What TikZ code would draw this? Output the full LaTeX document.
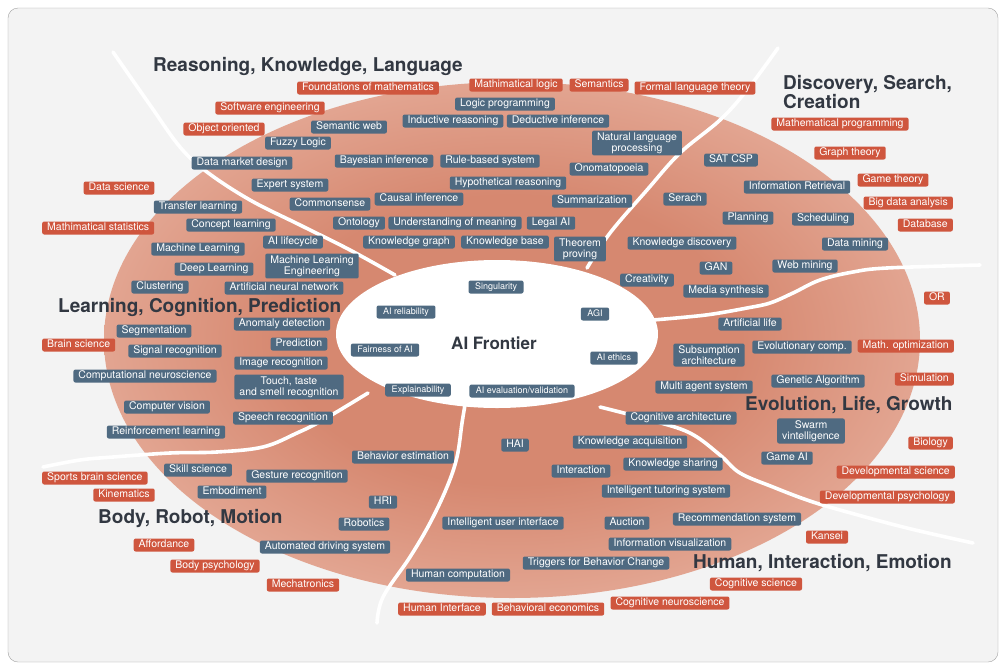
\documentclass[tikz,border=0pt]{standalone}
\usepackage{fontspec}
\setmainfont{TeX Gyre Heros}
\definecolor{bgc}{RGB}{243,243,243}
\definecolor{framec}{RGB}{160,160,160}
\definecolor{bluebox}{RGB}{79,106,129}
\definecolor{redbox}{RGB}{207,86,62}
\definecolor{salC}{RGB}{214,136,112}
\definecolor{salE}{RGB}{243,204,190}
\definecolor{hdc}{RGB}{50,56,66}
\pgfdeclareradialshading{salmonsh}{\pgfpoint{0bp}{0bp}}{color(0bp)=(salC); color(14bp)=(salC); color(40bp)=(salE); color(80bp)=(salE)}
\tikzset{
  boxbase/.style={rounded corners=2pt, text=white, font=\fontsize{10.5}{11}\selectfont, inner xsep=5pt},
  bb/.style={boxbase, fill=bluebox, inner ysep=1.4pt, text height=8pt, text depth=2.2pt},
  rb/.style={boxbase, fill=redbox, inner ysep=1.4pt, text height=8pt, text depth=2.2pt},
  bbtwo/.style={boxbase, fill=bluebox, inner ysep=2pt, align=center},
  ib/.style={rounded corners=2pt, text=white, fill=bluebox, font=\fontsize{9}{10}\selectfont, inner xsep=6.5pt, inner ysep=2pt, text height=7pt, text depth=2pt},
  hd/.style={text=hdc, font=\bfseries\fontsize{19}{16}\selectfont, inner sep=0pt, align=left},
  sepline/.style={white, line width=3.6pt, line cap=round}
}
\begin{document}
\begin{tikzpicture}[x=1pt,y=-1pt]
\useasboundingbox (0,0) rectangle (1006,670);
\fill[white] (0,0) rectangle (1006,670);
\draw[framec, fill=bgc, rounded corners=10pt] (8,8) rectangle (998,662);
\shade[shading=salmonsh] (512,340) ellipse [x radius=408pt, y radius=258pt];
% separators
\draw[sepline] plot[smooth, tension=0.6] coordinates {(113,52) (150,105) (180,147) (207,172) (250,200) (300,225) (350,250) (395,275)};
\draw[sepline] plot[smooth, tension=0.6] coordinates {(587,268) (610,233) (647,190) (680,153) (720,120) (747,90) (778,48)};
\draw[sepline] plot[smooth, tension=0.6] coordinates {(653,320) (687,317) (713,314) (747,308) (770,303) (793,293) (820,280) (853,272) (887,268) (980,265)};
\draw[sepline] plot[smooth, tension=0.6] coordinates {(600,407) (650,420) (690,433) (720,455) (740,473) (773,487) (807,500) (840,510) (907,528) (973,543)};
\draw[sepline] plot[smooth, tension=0.6] coordinates {(465,405) (462,423) (457,457) (447,487) (430,523) (410,557) (383,597) (377,623)};
\draw[sepline] plot[smooth, tension=0.6] coordinates {(368,393) (323,420) (297,433) (263,447) (217,452) (170,453) (113,457) (80,460) (43,467)};
\fill[white] (497,334) ellipse [x radius=161pt, y radius=74pt];

% headings
\node[hd, anchor=west] (hR) at (153,66) {Reasoning, Knowledge, Language};
\node[hd, anchor=north west] (hD) at (783,75) {Discovery, Search,\\Creation};
\node[hd, anchor=west] (hL) at (58,307) {Learning, Cognition, Prediction};
\node[hd, anchor=west] (hE) at (745,405) {Evolution, Life, Growth};
\node[hd, anchor=west] (hB) at (98,518) {Body, Robot, Motion};
\node[hd, anchor=west] (hH) at (693,563) {Human, Interaction, Emotion};
\node[text=hdc, font=\bfseries\fontsize{17}{20}\selectfont] (af) at (494,343) {AI Frontier};

% red boxes
\node[rb] (r1) at (368,88) {Foundations of mathematics};
\node[rb] (r2) at (516,85) {Mathimatical logic};
\node[rb] (r3) at (599,85) {Semantics};
\node[rb] (r4) at (695,88) {Formal language theory};
\node[rb] (r5) at (270,108) {Software engineering};
\node[rb] (r6) at (224,129) {Object oriented};
\node[rb] (r7) at (119,188) {Data science};
\node[rb, anchor=west] (r8) at (42,228) {Mathimatical statistics};
\node[rb] (r9) at (840,124) {Mathematical programming};
\node[rb] (r10) at (850,153) {Graph theory};
\node[rb] (r11) at (893,180) {Game theory};
\node[rb, anchor=east] (r12) at (953,203) {Big data analysis};
\node[rb, anchor=east] (r13) at (953,225) {Database};
\node[rb, anchor=east] (r14) at (950,298) {OR};
\node[rb, anchor=east] (r15) at (954,346) {Math. optimization};
\node[rb, anchor=east] (r16) at (954,379) {Simulation};
\node[rb, anchor=east] (r17) at (953,443) {Biology};
\node[rb, anchor=east] (r18) at (955,472) {Developmental science};
\node[rb, anchor=east] (r19) at (955,497) {Developmental psychology};
\node[rb] (r20) at (827,537) {Kansei};
\node[rb] (r21) at (756,584) {Cognitive science};
\node[rb] (r22) at (670,603) {Cognitive neuroscience};
\node[rb] (r23) at (548,609) {Behavioral economics};
\node[rb] (r24) at (442,609) {Human Interface};
\node[rb, anchor=west] (r25) at (42,345) {Brain science};
\node[rb, anchor=west] (r26) at (42,478) {Sports brain science};
\node[rb] (r27) at (124,495) {Kinematics};
\node[rb] (r28) at (164,545) {Affordance};
\node[rb] (r29) at (215,566) {Body psychology};
\node[rb] (r30) at (303,585) {Mechatronics};

% blue boxes
\node[bb] (b1) at (505,104) {Logic programming};
\node[bb] (b2) at (453,121) {Inductive reasoning};
\node[bb] (b3) at (558,121) {Deductive inference};
\node[bb] (b4) at (349,127) {Semantic web};
\node[bb] (b5) at (298,143) {Fuzzy Logic};
\node[bbtwo] (b6) at (637,143) {Natural language\\processing};
\node[bb] (b7) at (384,161) {Bayesian inference};
\node[bb] (b8) at (490,161) {Rule-based system};
\node[bb] (b9) at (609,169) {Onomatopoeia};
\node[bb] (b10) at (242,163) {Data market design};
\node[bb] (b11) at (290,185) {Expert system};
\node[bb] (b12) at (508,183) {Hypothetical reasoning};
\node[bb] (b13) at (330,204) {Commonsense};
\node[bb] (b14) at (419,199) {Causal inference};
\node[bb] (b15) at (592,201) {Summarization};
\node[bb] (b16) at (198,207) {Transfer learning};
\node[bb] (b17) at (231,225) {Concept learning};
\node[bb] (b18) at (359,223) {Ontology};
\node[bb] (b19) at (455,223) {Understanding of meaning};
\node[bb] (b20) at (551,223) {Legal AI};
\node[bb] (b21) at (293,242) {AI lifecycle};
\node[bb] (b22) at (409,242) {Knowledge graph};
\node[bb] (b23) at (505,242) {Knowledge base};
\node[bbtwo] (b24) at (580,249) {Theorem\\proving};
\node[bb] (b25) at (198,249) {Machine Learning};
\node[bbtwo] (b26) at (312,266) {Machine Learning\\Engineering};
\node[bb] (b27) at (214,269) {Deep Learning};
\node[bb] (b28) at (160,287) {Clustering};
\node[bb] (b29) at (284,288) {Artificial neural network};
\node[bb] (b30) at (154,331) {Segmentation};
\node[bb] (b31) at (282,324) {Anomaly detection};
\node[bb] (b32) at (175,351) {Signal recognition};
\node[bb] (b33) at (299,344) {Prediction};
\node[bb] (b34) at (281,363) {Image recognition};
\node[bb] (b35) at (145,376) {Computational neuroscience};
\node[bbtwo] (b36) at (289,387) {Touch, taste\\and smell recognition};
\node[bb] (b37) at (167,407) {Computer vision};
\node[bb] (b38) at (283,418) {Speech recognition};
\node[bb] (b39) at (166,432) {Reinforcement learning};
\node[bb] (b40) at (731,160) {SAT CSP};
\node[bb] (b41) at (797,187) {Information Retrieval};
\node[bb] (b42) at (685,199) {Serach};
\node[bb] (b43) at (748,218) {Planning};
\node[bb] (b44) at (823,219) {Scheduling};
\node[bb] (b45) at (682,243) {Knowledge discovery};
\node[bb] (b46) at (855,244) {Data mining};
\node[bb] (b47) at (716,268) {GAN};
\node[bb] (b48) at (805,266) {Web mining};
\node[bb] (b49) at (647,280) {Creativity};
\node[bb] (b50) at (726,291) {Media synthesis};
\node[bb] (b51) at (750,324) {Artificial life};
\node[bbtwo] (b52) at (709,355) {Subsumption\\architecture};
\node[bb] (b53) at (802,347) {Evolutionary comp.};
\node[bb] (b54) at (704,387) {Multi agent system};
\node[bb] (b55) at (818,381) {Genetic Algorithm};
\node[bb] (b56) at (681,418) {Cognitive architecture};
\node[bbtwo] (b57) at (811,431) {Swarm\\vintelligence};
\node[bb] (b58) at (787,458) {Game AI};
\node[bb] (b59) at (515,445) {HAI};
\node[bb] (b60) at (630,442) {Knowledge acquisition};
\node[bb] (b61) at (403,457) {Behavior estimation};
\node[bb] (b62) at (673,464) {Knowledge sharing};
\node[bb] (b63) at (581,471) {Interaction};
\node[bb] (b64) at (666,491) {Intelligent tutoring system};
\node[bb] (b65) at (503,523) {Intelligent user interface};
\node[bb] (b66) at (627,523) {Auction};
\node[bb] (b67) at (737,519) {Recommendation system};
\node[bb] (b68) at (670,544) {Information visualization};
\node[bb] (b69) at (596,563) {Triggers for Behavior Change};
\node[bb] (b70) at (458,575) {Human computation};
\node[bb] (b71) at (198,470) {Skill science};
\node[bb] (b72) at (297,476) {Gesture recognition};
\node[bb] (b73) at (232,492) {Embodiment};
\node[bb] (b74) at (383,502) {HRI};
\node[bb] (b75) at (364,524) {Robotics};
\node[bb] (b76) at (325,547) {Automated driving system};

% inner boxes
\node[ib] (i1) at (496,287) {Singularity};
\node[ib] (i2) at (406,312) {AI reliability};
\node[ib] (i3) at (595,314) {AGI};
\node[ib] (i4) at (385,350) {Fairness of AI};
\node[ib] (i5) at (614,358) {AI ethics};
\node[ib] (i6) at (418,390) {Explainability};
\node[ib] (i7) at (522,391) {AI evaluation/validation};
\end{tikzpicture}
\end{document}
